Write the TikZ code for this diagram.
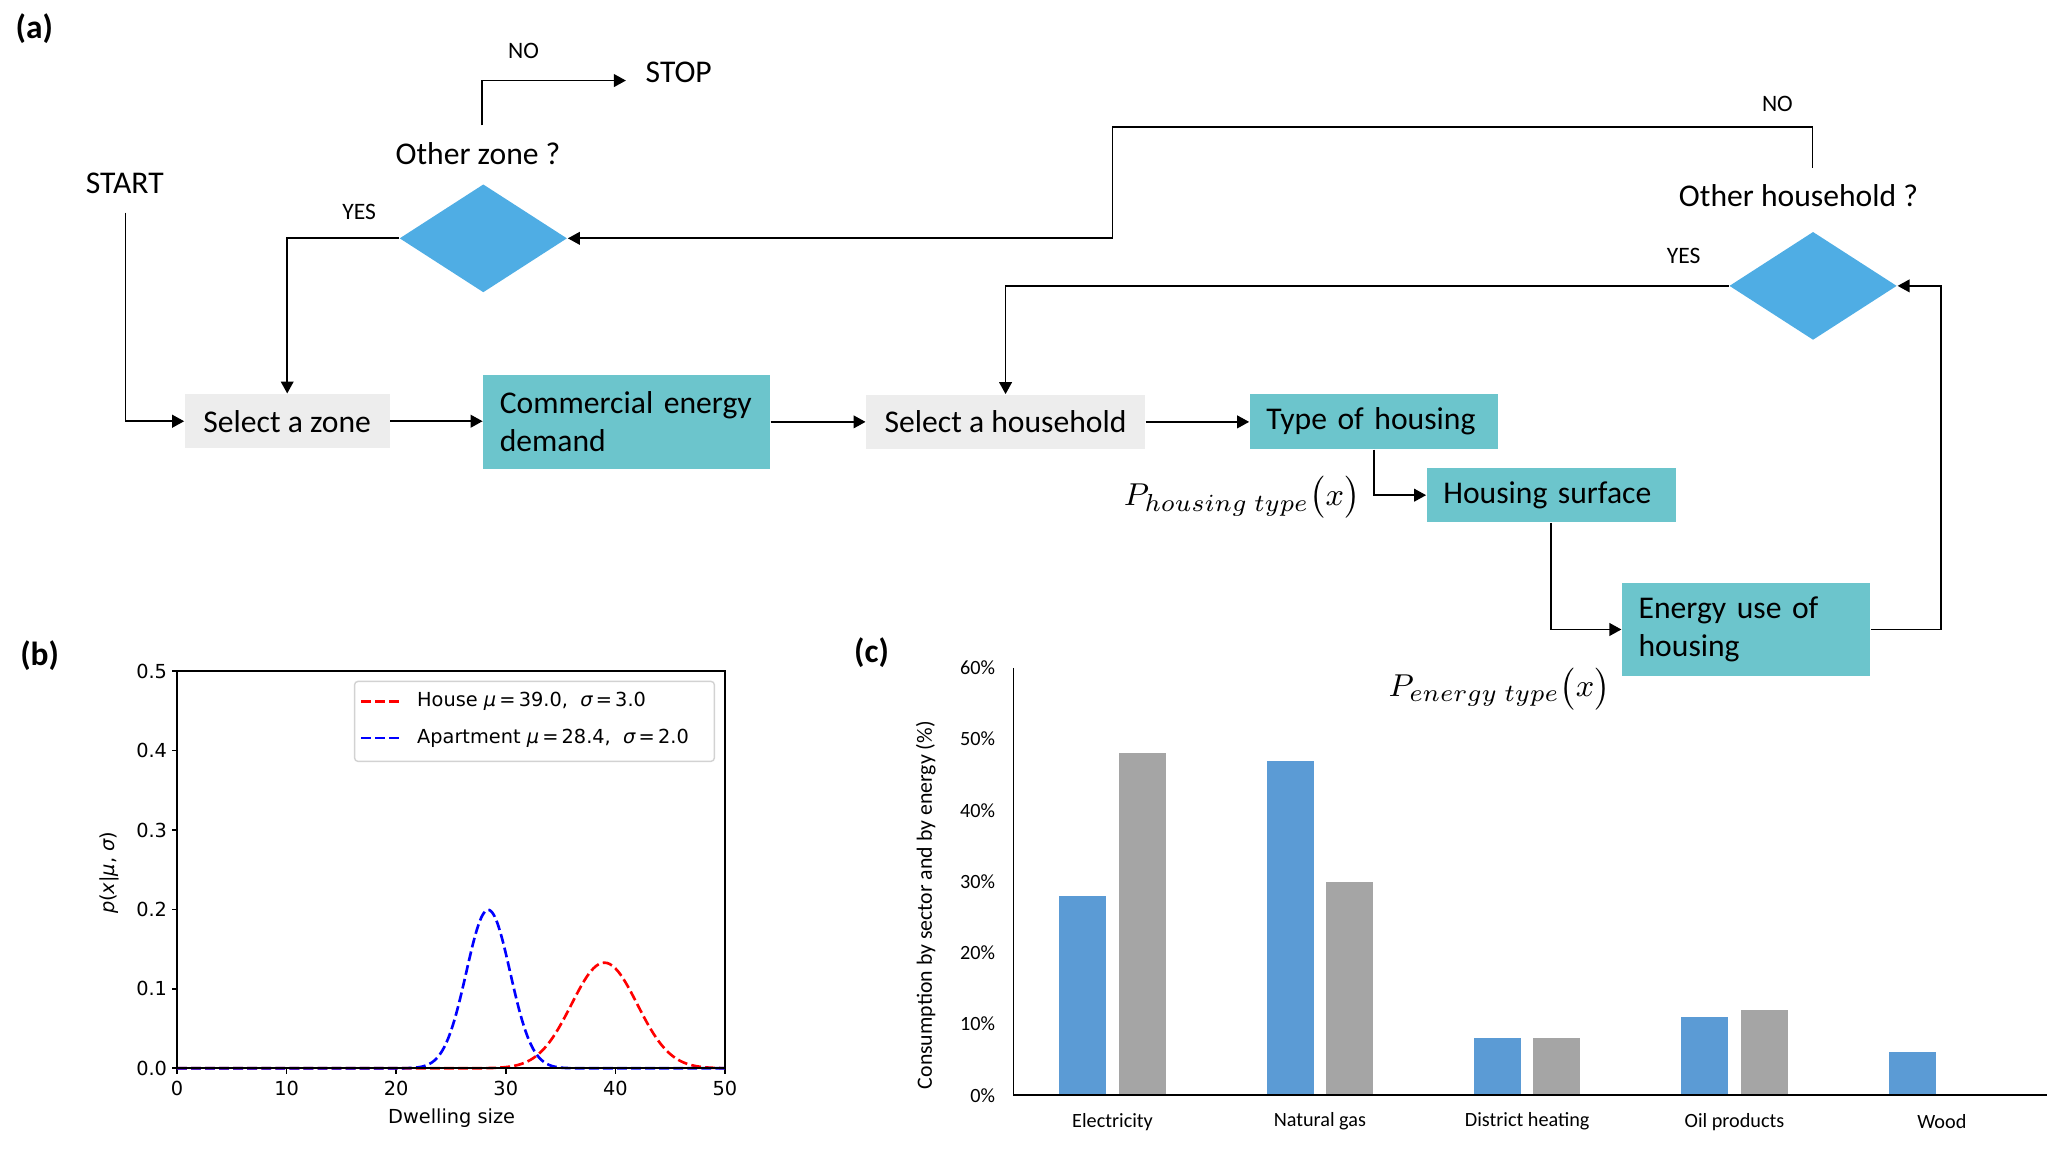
\documentclass[tikz,border=0pt]{standalone}
\usepackage{fontspec}
\setmainfont{Carlito}
\newfontfamily\dvs{DejaVu Sans}
\usetikzlibrary{shapes.geometric,arrows.meta}
\definecolor{teal1}{RGB}{108,197,204}
\definecolor{boxgray}{RGB}{237,237,237}
\definecolor{diablue}{RGB}{79,173,228}
\definecolor{barblue}{RGB}{91,155,213}
\definecolor{bargray}{RGB}{165,165,165}
\definecolor{leggray}{RGB}{210,210,210}
\def\DU{0.3757pt}
\tikzset{
  lbl/.style={font=\fontsize{9}{10.9}\selectfont, inner sep=0pt},
  smalllbl/.style={font=\fontsize{6.7}{8}\selectfont, inner sep=0pt},
  panel/.style={font=\fontsize{9.5}{11}\selectfont\bfseries, inner sep=0pt},
  graybox/.style={rectangle, inner sep=0pt, fill=boxgray, minimum height=41*\DU, align=center, font=\fontsize{9}{10.9}\selectfont},
  tealbox/.style={rectangle, inner ysep=0pt, fill=teal1, inner xsep=12.5*\DU, align=left, font=\fontsize{9}{10.9}\selectfont},
  dia/.style={diamond, fill=diablue, inner sep=0pt, minimum width=127*\DU, minimum height=82*\DU},
  arr/.style={draw=black, line width=0.5pt, -{Triangle[length=3.4pt,width=3.6pt]}},
  mathlbl/.style={font=\fontsize{9.4}{11}\selectfont, inner sep=0pt},
  axline/.style={draw=black, line width=0.45pt},
  plotfont/.style={font=\dvs\fontsize{5.5}{6.5}\selectfont, inner sep=0pt},
  reddash/.style={draw=red, line width=0.75pt, dash pattern=on 2.8pt off 1.2pt},
  bluedash/.style={draw=blue, line width=0.75pt, dash pattern=on 2.8pt off 1.2pt},
  ctick/.style={font=\fontsize{5.75}{7}\selectfont, inner sep=0pt},
}
\begin{document}
\begin{tikzpicture}[x=0.3757pt,y=-0.3757pt]
\useasboundingbox (0,0) rectangle (1560,871);

% ---------------- panel (a) ----------------
\node[panel] (pa) at (26,22) {(a)};
\node[lbl] (start) at (94.5,139) {START};
\node[lbl] (oz) at (362,116.5) {Other zone ?};
\node[lbl] (stop) at (514,54.5) {STOP};
\node[smalllbl] (no1) at (396.5,38.5) {NO};
\node[smalllbl] (yes1) at (272,160.5) {YES};
\node[lbl] (oh) at (1362,148.5) {Other household ?};
\node[smalllbl] (no2) at (1346,78.7) {NO};
\node[smalllbl] (yes2) at (1275,194) {YES};

\node[dia] (d1) at (366,180.5) {};
\node[dia] (d2) at (1373,216.5) {};

\node[graybox, minimum width=155*\DU] (zone) at (217.5,319) {Select a zone};
\node[tealbox, text width=192*\DU, minimum height=71*\DU] (comm) at (474.5,319.5) {Commercial energy\\demand};
\node[graybox, minimum width=211*\DU] (hh) at (761.5,319.5) {Select a household};
\node[tealbox, text width=163*\DU, minimum height=42*\DU] (type) at (1040.5,319) {Type of housing};
\node[tealbox, text width=163.5*\DU, minimum height=41*\DU] (surf) at (1174.75,375) {Housing surface};
\node[tealbox, text width=163*\DU, minimum height=71*\DU] (energy) at (1322.4,476.7) {Energy use of\\housing};

\node[mathlbl] (ph) at (940.5,376.5) {$P_{housing\ type}\bigl(x\bigr)$};
\node[mathlbl] (pe) at (1135.5,521.5) {$P_{energy\ type}\bigl(x\bigr)$};

\coordinate (s1) at (95,161);
\coordinate (z1) at (365,95);
\coordinate (stopin) at (474,61);
\coordinate (n1) at (1372.5,127);
\coordinate (n2) at (842.5,96.4);
\coordinate (c1) at (1470,216.5);

\draw[arr] (s1) |- (zone.west);
\draw[arr] (zone.east) -- (zone.east -| comm.west);
\draw[arr] (comm.east) -- (comm.east -| hh.west);
\draw[arr] (hh.east) -- (hh.east -| type.west);
\draw[arr] (type.south) |- (surf.west);
\draw[arr] (surf.south) |- (energy.west);
\draw[arr] (energy.east) -| (c1) -- (d2.east);
\draw[arr] (d2.west) -| (hh.north);
\draw[arr] (n1) |- (n2) |- (d1.east);
\draw[arr] (d1.west) -| (zone.north);
\draw[arr] (z1) |- (stopin);

% ---------------- panel (b) ----------------
\node[panel] (pb) at (30,496.5) {(b)};
\foreach \i in {0,...,5} {
  \draw[axline] ({134+83*\i},809) -- ({134+83*\i},813);
  \node[plotfont] (xt\i) at ({134+83*\i},824.5) {\ifnum\i=0 0\else\i0\fi};
}
\foreach \k in {0,...,5} {
  \draw[axline] (134,{809-60.14*\k}) -- (130,{809-60.14*\k});
  \node[plotfont, anchor=east] (yt\k) at (127,{809-60.14*\k}) {0.\k};
}
\draw[reddash] plot[domain=0:50, samples=201, smooth] ({134+8.3*\x},{809-601.4*0.132981*exp(-min(((\x-39)*(\x-39))/18,20))});
\draw[bluedash] plot[domain=0:50, samples=201, smooth] ({134+8.3*\x},{809-601.4*0.199471*exp(-min(((\x-28.4)*(\x-28.4))/8,20))});
\draw[axline] (134,508.3) rectangle (549,809);
\draw[leggray, line width=0.4pt, rounded corners=1pt, fill=white] (268.5,516) rectangle (541,576.6);
\draw[reddash] (273.5,531.3) -- (303.5,531.3);
\draw[bluedash] (273.5,559) -- (303.5,559);
\node[plotfont, anchor=west] (leg1) at (315.4,531.3) {House {\itshape μ}\,=\,39.0,\ \ {\itshape σ}\,=\,3.0};
\node[plotfont, anchor=west] (leg2) at (315.4,559) {Apartment {\itshape μ}\,=\,28.4,\ \ {\itshape σ}\,=\,2.0};
\node[plotfont] (xlab) at (342,847) {Dwelling size};
\node[plotfont, rotate=90] (ylab) at (82.5,661) {{\itshape p}({\itshape x}|{\itshape μ}, {\itshape σ})};

% ---------------- panel (c) ----------------
\node[panel] (pc) at (660,494) {(c)};
\foreach \i/\b/\g in {0/28/48,1/47/30,2/8/8,3/11/12,4/6/0} {
  \pgfmathsetmacro\cx{842.5+157*\i}
  \fill[barblue] ({\cx-40.25},829.4) rectangle ({\cx-4.75},{829.4-5.393*\b});
  \ifnum\g>0
  \fill[bargray] ({\cx+4.75},829.4) rectangle ({\cx+40.25},{829.4-5.393*\g});
  \fi
}
\draw[axline] (767.5,505.8) -- (767.5,829.4) -- (1550,829.4);
\foreach \k in {0,...,6} {
  \node[ctick, anchor=east] (pt\k) at (754,{829.4-53.93*\k}) {\ifnum\k=0 0\else\k0\fi\%};
}
\foreach \i/\t in {0/Electricity,1/Natural gas,2/District heating,3/Oil products,4/Wood} {
  \node[ctick] (cat\i) at ({842.5+157*\i},849.4) {\t};
}
\node[font=\fontsize{6.2}{7.5}\selectfont, inner sep=0pt, rotate=90] (ylc) at (701,685.5) {Consumption by sector and by energy (\%)};
\end{tikzpicture}
\end{document}
